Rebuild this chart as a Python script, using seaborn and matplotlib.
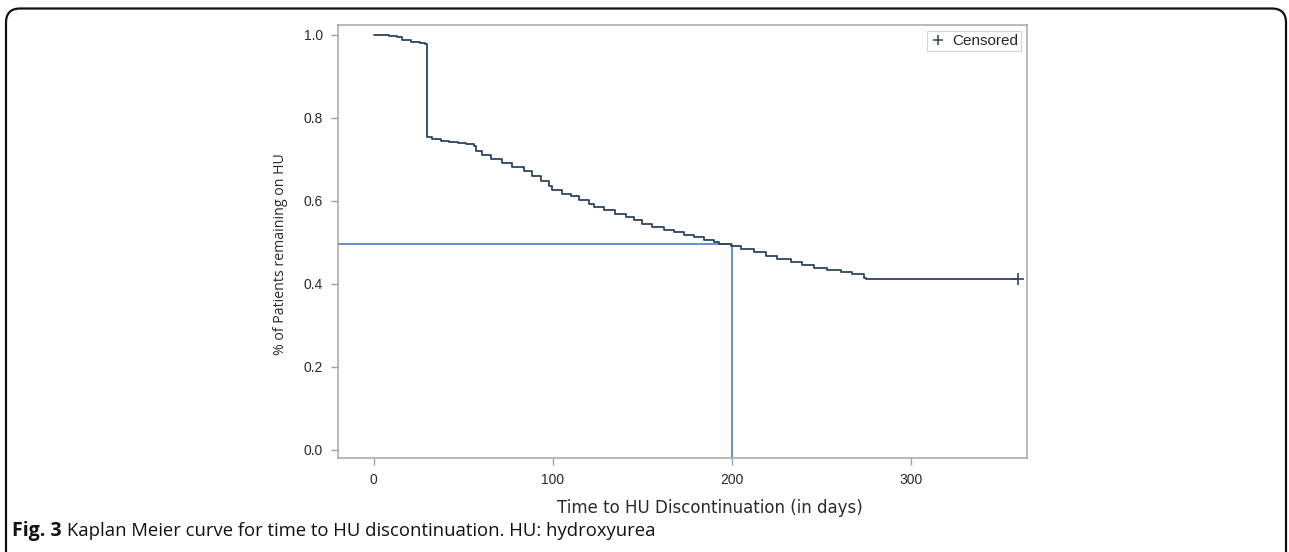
import matplotlib
matplotlib.use("Agg")
import matplotlib.pyplot as plt
from matplotlib.lines import Line2D
from matplotlib.patches import FancyBboxPatch
import seaborn as sns
import pandas as pd

# ---- data ----
event_days = [0, 4, 8.6, 13, 16, 20.7, 26, 28.5, 30, 32.8, 37.4, 42, 46.8, 51.4, 56, 57,
              60.7, 65.4, 71.9, 77.5, 84, 88.6, 93.3, 98, 99.8, 105.4, 110, 114.7,
              120.3, 123, 128.7, 135, 140.8, 145.4, 150, 155.7, 162, 167.8, 173.4,
              179, 184.5, 190, 193, 199.4, 205, 212.5, 219, 225.5, 233, 239.5, 246,
              253.5, 261, 267.4, 274, 275, 360]
survival = [1.0, 0.999, 0.997, 0.994, 0.988, 0.983, 0.981, 0.978, 0.755, 0.749, 0.745,
            0.742, 0.739, 0.737, 0.733, 0.721, 0.711, 0.700, 0.691, 0.681, 0.671,
            0.659, 0.647, 0.636, 0.625, 0.617, 0.612, 0.602, 0.593, 0.586, 0.577,
            0.568, 0.561, 0.553, 0.544, 0.537, 0.530, 0.524, 0.518, 0.512, 0.506,
            0.500, 0.496, 0.490, 0.484, 0.476, 0.468, 0.460, 0.452, 0.446, 0.439,
            0.434, 0.428, 0.423, 0.415, 0.412, 0.412]
censored_days = [360]
censored_surv = [0.412]
median_days = 200
median_surv = 0.495
x_ticks = [0, 100, 200, 300]
y_ticks = [0.0, 0.2, 0.4, 0.6, 0.8, 1.0]

df = pd.DataFrame({"days": event_days, "surv": survival})

sns.set_theme(style="white")
plt.rcParams["font.family"] = ["Liberation Sans", "DejaVu Sans"]

fig = plt.figure(figsize=(12.89, 5.52), dpi=100)
ax = fig.add_axes([338 / 1289, 1 - 458 / 552, (1027 - 338) / 1289, (458 - 25) / 552])

curve_color = "#2e4560"
ref_color = "#4a7cc6"
text_color = "#2a2a2a"

ax.set_xlim(-20, 365)
ax.set_ylim(-0.02, 1.024)

sns.lineplot(data=df, x="days", y="surv", drawstyle="steps-post", estimator=None,
             color=curve_color, linewidth=1.3, ax=ax, legend=False)
ax.scatter(censored_days, censored_surv, marker="+", s=70, color=curve_color,
           linewidths=1.2, zorder=5)

ax.hlines(median_surv, ax.get_xlim()[0], median_days, color=ref_color, linewidth=1.2, zorder=1)
ax.vlines(median_days, ax.get_ylim()[0], median_surv, color=ref_color, linewidth=1.2, zorder=1)

ax.set_xticks(x_ticks)
ax.set_yticks(y_ticks)
ax.set_yticklabels([f"{v:.1f}" for v in y_ticks])
ax.tick_params(axis="both", which="both", direction="out", length=5, width=1,
               color="#a0a0a0", labelsize=10, labelcolor=text_color, pad=6,
               bottom=True, left=True)
for s in ax.spines.values():
    s.set_color("#a6a6a6")
    s.set_linewidth(1.1)

ax.set_xlabel("Time to HU Discontinuation (in days)", fontsize=12, color=text_color,
              family=["DejaVu Sans"])
ax.xaxis.set_label_coords((710 - 338) / 689, -0.095)
ax.set_ylabel("% of Patients remaining on HU", fontsize=10.2, color=text_color,
              family=["Open Sans", "DejaVu Sans"])
ax.yaxis.set_label_coords(-0.073, 0.47)

handle = Line2D([], [], linestyle="none", marker="+", markersize=7, color=curve_color,
                markeredgewidth=1.1)
leg = ax.legend([handle], ["Censored"], loc="upper right", fontsize=11, frameon=True,
                fancybox=False, edgecolor="#c8c8c8", borderpad=0.2, handletextpad=0.4,
                handlelength=1.0, borderaxespad=0.4)
leg.get_frame().set_linewidth(0.8)

# caption
fig.text(12 / 1289, 1 - 531 / 552, "Fig. 3", fontsize=14, fontweight="bold",
         family=["Open Sans", "DejaVu Sans"], va="center", ha="left", color="#111111")
fig.text(67 / 1289, 1 - 531 / 552,
         "Kaplan Meier curve for time to HU discontinuation. HU: hydroxyurea",
         fontsize=13.3, family=["Open Sans", "DejaVu Sans"], va="center", ha="left",
         color="#111111")

# outer rounded frame
frame = FancyBboxPatch((6 / 1289, -0.1), (1286 - 6) / 1289, (1 - 8.5 / 552) + 0.1,
                       boxstyle="round,pad=0,rounding_size=0.011",
                       transform=fig.transFigure, fill=False, edgecolor="#111111",
                       linewidth=1.6, mutation_aspect=1289 / 552, clip_on=False)
fig.patches.append(frame)

fig.savefig("out.png", dpi=100)
